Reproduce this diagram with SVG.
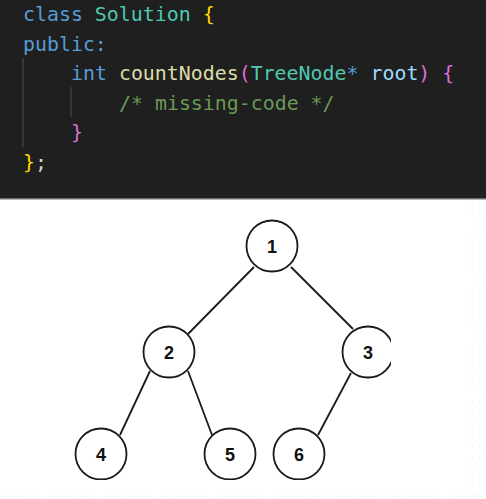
<svg xmlns="http://www.w3.org/2000/svg" width="486" height="499" viewBox="0 0 486 499">
  <defs>
    <style>
      .code { font-family: "DejaVu Sans Mono", "Liberation Mono", monospace; font-size: 19.9px; white-space: pre; }
      .kw { fill: #569cd6; }
      .ty { fill: #4ec9b0; }
      .fn { fill: #dcdcaa; }
      .pa { fill: #9cdcfe; }
      .cm { fill: #6a9955; }
      .b1 { fill: #ffd700; }
      .b2 { fill: #da70d6; }
      .pl { fill: #d4d4d4; }
      .guide { stroke: #404040; stroke-width: 1.5; }
      .node circle { fill: #ffffff; stroke: #1a1a1a; stroke-width: 1.8; }
      .node text { font-family: "Liberation Sans", Arial, sans-serif; font-weight: bold; font-size: 18px; fill: #111111; text-anchor: middle; }
      .edge { stroke: #1a1a1a; stroke-width: 1.8; fill: none; }
      .dots { stroke: #dcdcdc; stroke-width: 1.2; stroke-dasharray: 1.2 8.1; fill: none; }
    </style>
    <clipPath id="treeClip">
      <rect x="0" y="200" width="391" height="280"/>
    </clipPath>
  </defs>

  <!-- code panel -->
  <g id="code-panel">
    <rect x="0" y="0" width="486" height="198" fill="#1f1f1f"/>
    <rect x="0" y="198" width="486" height="1.5" fill="#6e6e6e"/>
    <line class="guide" x1="23" y1="58" x2="23" y2="147"/>
    <line class="guide" x1="71" y1="87" x2="71" y2="117"/>
    <text class="code" x="23" y="21"><tspan class="kw">class</tspan><tspan class="ty"> Solution</tspan><tspan class="pl"> </tspan><tspan class="b1">{</tspan></text>
    <text class="code" x="23" y="50.5"><tspan class="kw">public:</tspan></text>
    <text class="code" x="71" y="80"><tspan class="kw">int</tspan><tspan class="pl"> </tspan><tspan class="fn">countNodes</tspan><tspan class="b2">(</tspan><tspan class="ty">TreeNode</tspan><tspan class="kw">*</tspan><tspan class="pl"> </tspan><tspan class="pa">root</tspan><tspan class="b2">)</tspan><tspan class="pl"> </tspan><tspan class="b2">{</tspan></text>
    <text class="code cm" x="119" y="109.5">/* missing-code */</text>
    <text class="code b2" x="71" y="139">}</text>
    <text class="code" x="23" y="168.5"><tspan class="b1">}</tspan><tspan class="pl">;</tspan></text>
  </g>

  <!-- faint dotted border -->
  <line class="dots" x1="480" y1="205" x2="480" y2="496"/>
  <line class="dots" x1="472" y1="205" x2="472" y2="496" style="stroke:#efefef"/>
  <line class="dots" x1="2" y1="496" x2="484" y2="496"/>

  <g clip-path="url(#treeClip)">
    <g id="connectors">
      <line class="edge" x1="254" y1="267" x2="188" y2="334"/>
      <line class="edge" x1="291" y1="267" x2="353" y2="329"/>
      <line class="edge" x1="150" y1="371" x2="120" y2="435"/>
      <line class="edge" x1="188" y1="371" x2="212" y2="435"/>
      <line class="edge" x1="351" y1="373" x2="318" y2="435"/>
    </g>
    <g id="node1" class="node"><circle cx="272" cy="246" r="25.5"/><text x="272" y="252.5">1</text></g>
    <g id="node2" class="node"><circle cx="169" cy="352" r="25.5"/><text x="169" y="358.5">2</text></g>
    <g id="node3" class="node"><circle cx="368" cy="352" r="25.5"/><text x="368" y="358.5">3</text></g>
    <g id="node4" class="node"><circle cx="101" cy="454" r="25.5"/><text x="101" y="460.5">4</text></g>
    <g id="node5" class="node"><circle cx="230" cy="454" r="25.5"/><text x="230" y="460.5">5</text></g>
    <g id="node6" class="node"><circle cx="299" cy="454" r="25.5"/><text x="299" y="460.5">6</text></g>
  </g>
</svg>
